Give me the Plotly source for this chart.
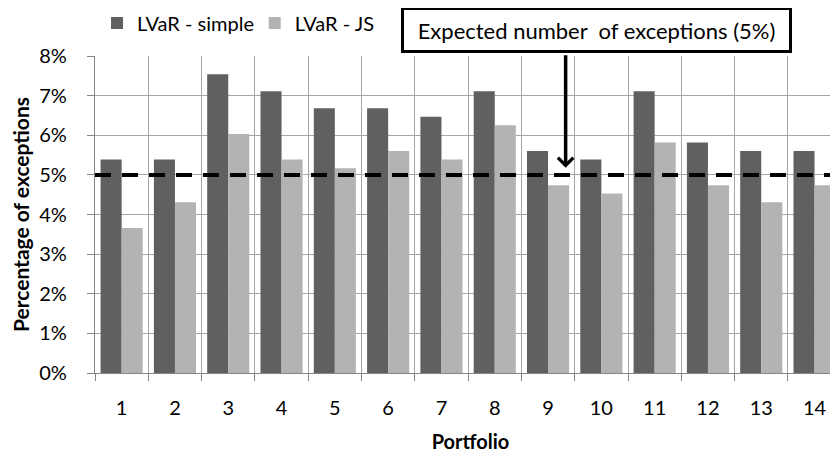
import plotly.graph_objects as go

portfolios = [str(i) for i in range(1, 15)]
lvar_simple = [5.39, 5.39, 7.54, 7.11, 6.68, 6.68, 6.47, 7.11, 5.60, 5.39, 7.11, 5.82, 5.60, 5.60]
lvar_js = [3.66, 4.31, 6.03, 5.39, 5.17, 5.60, 5.39, 6.25, 4.74, 4.53, 5.82, 4.74, 4.31, 4.74]
expected_rate = 5
y_ticks = [0, 1, 2, 3, 4, 5, 6, 7, 8]
y_tick_labels = ["0%", "1%", "2%", "3%", "4%", "5%", "6%", "7%", "8%"]

FONT = "Lato"
GRID = "#a6a6a6"
AXIS = "#868686"

fig = go.Figure()
fig.add_trace(go.Bar(x=portfolios, y=lvar_simple, name="LVaR - simple", legend="legend",
                     marker=dict(color="#606060", line=dict(width=0))))
fig.add_trace(go.Bar(x=portfolios, y=lvar_js, name="LVaR - JS", legend="legend2",
                     marker=dict(color="#b3b3b3", line=dict(width=0))))

fig.add_shape(type="line", xref="paper", x0=0, x1=1, yref="y",
              y0=expected_rate, y1=expected_rate,
              line=dict(color="black", width=4, dash="16px,11px"), layer="above")

# annotation box
fig.add_annotation(xref="paper", yref="paper", x=0.668, y=1.082,
                   xanchor="center", yanchor="middle", showarrow=False,
                   text="Expected number  of exceptions (5%)",
                   font=dict(family=FONT, size=22, color="black"),
                   bordercolor="black", borderwidth=3, borderpad=0,
                   width=385, height=40, bgcolor="white")
# arrow
fig.add_annotation(x=8.33, y=5.18, xref="x", yref="y", text="",
                   showarrow=True, ax=0, ay=-114, arrowhead=4, arrowsize=0.85,
                   arrowwidth=3.5, arrowcolor="black")

legend_common = dict(orientation="h", xref="paper", yref="paper", y=1.104,
                     xanchor="left", yanchor="middle",
                     font=dict(family=FONT, size=20), bgcolor="rgba(0,0,0,0)",
                     itemwidth=30)

fig.update_layout(
    width=838, height=452,
    margin=dict(l=87, r=0, t=48, b=87, autoexpand=False),
    plot_bgcolor="white", paper_bgcolor="white",
    barmode="group", bargap=0.21, bargroupgap=0,
    font=dict(family=FONT, size=20, color="black"),
    showlegend=True,
    legend=dict(x=0.0027, **legend_common),
    legend2=dict(x=0.2127, **legend_common),
    xaxis=dict(type="category", range=[-0.5, 13.59], tickson="boundaries",
               ticks="outside", ticklen=7, tickcolor=AXIS, tickwidth=1.3,
               showgrid=True, gridcolor=GRID, gridwidth=1.3,
               showline=True, linecolor=AXIS, linewidth=1.3,
               ticklabelstandoff=17, automargin=False,
               tickfont=dict(size=20),
               title=dict(text="<b>Portfolio</b>", font=dict(family=FONT, size=20), standoff=16)),
    yaxis=dict(range=[0, 8], tickmode="array", tickvals=y_ticks, ticktext=y_tick_labels,
               ticks="outside", ticklen=7, tickcolor=AXIS, tickwidth=1.3,
               showgrid=True, gridcolor=GRID, gridwidth=1.3,
               showline=True, linecolor=AXIS, linewidth=1.3,
               zeroline=False, ticklabelstandoff=16, automargin=False,
               tickfont=dict(size=20),
               title=dict(text="<b>Percentage of exceptions</b>", font=dict(family=FONT, size=21), standoff=6)),
)

fig.write_html("out.html")
